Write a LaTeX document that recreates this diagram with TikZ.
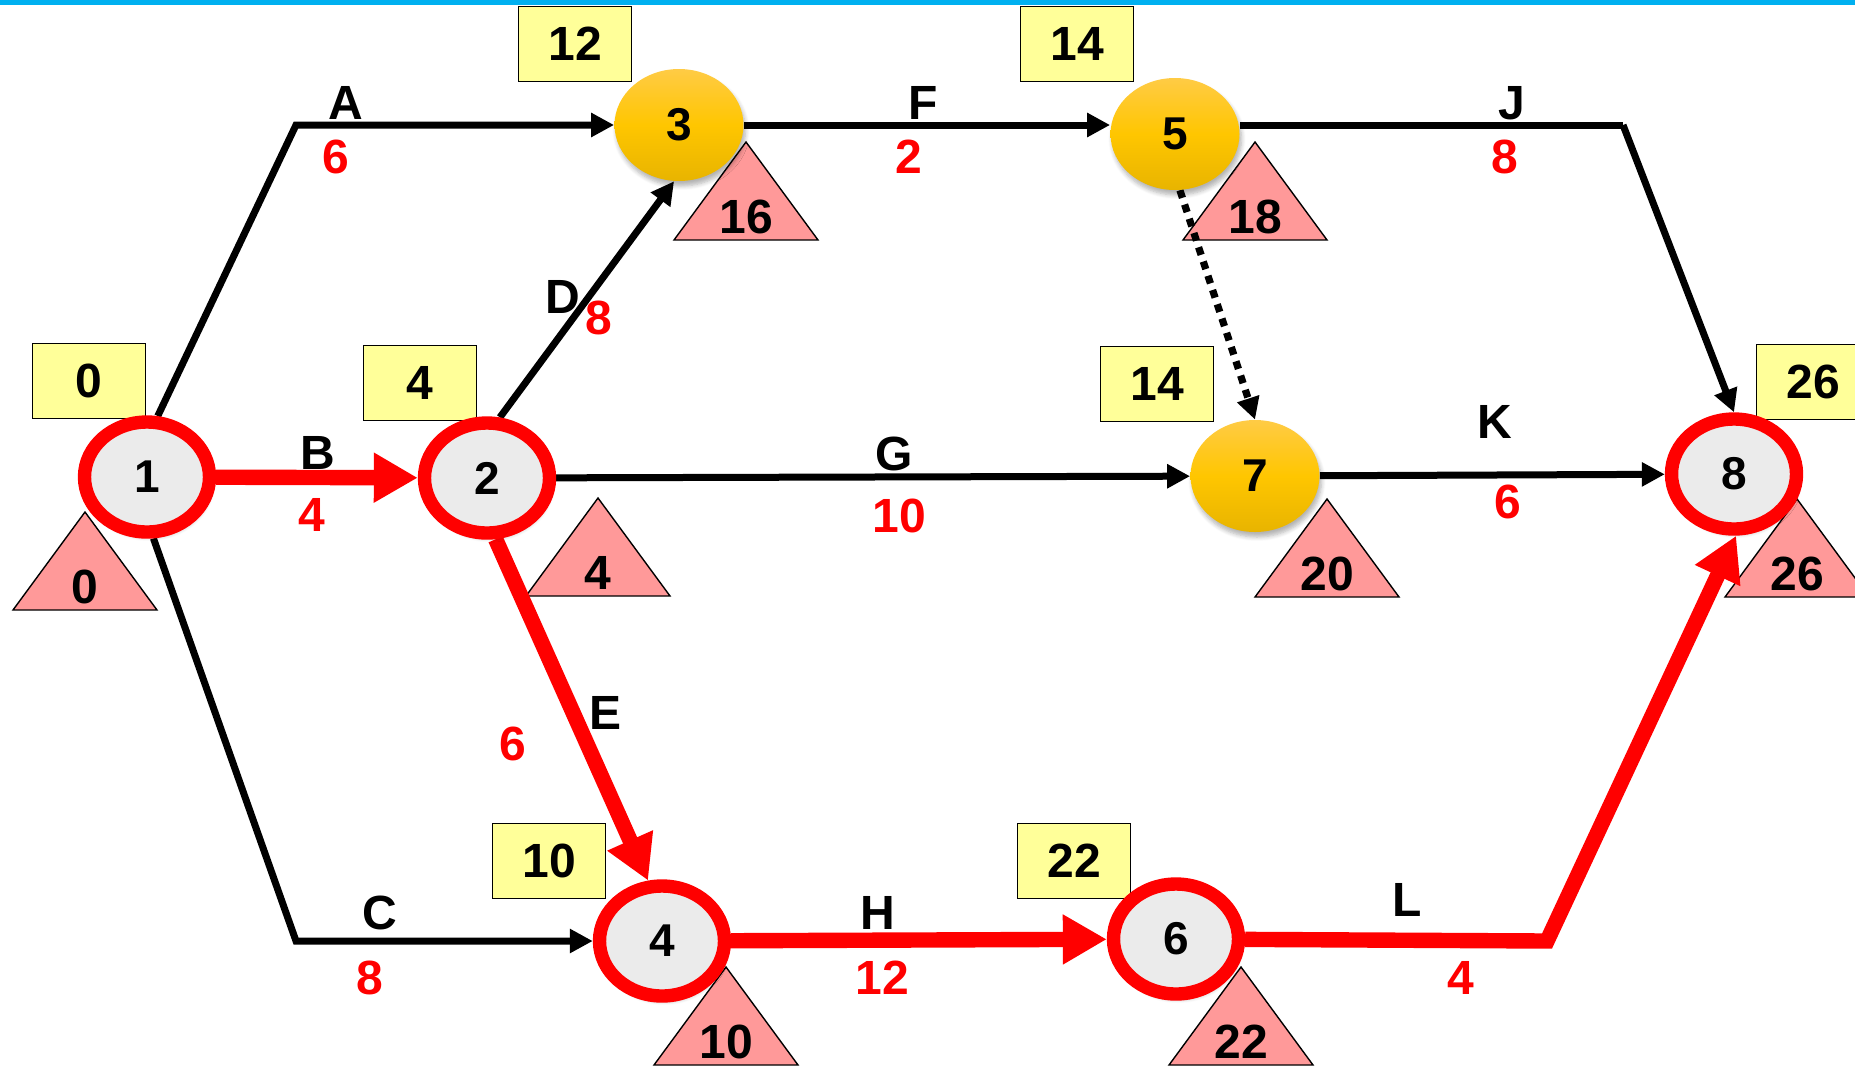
\documentclass[tikz,border=0pt]{standalone}
\usepackage{fontspec}
\setmainfont{Liberation Sans}
\usetikzlibrary{arrows.meta,calc,shadows.blur,shapes.geometric}
\pgfdeclarelayer{back}
\pgfdeclarelayer{edges}
\pgfsetlayers{back,edges,main}
\definecolor{topband}{HTML}{00B0F0}
\definecolor{boxfill}{HTML}{FFFF99}
\definecolor{trifill}{HTML}{FF9999}
\definecolor{nodegray}{HTML}{EBEBEB}
\definecolor{orangetop}{HTML}{FFCB45}
\definecolor{orangemid}{HTML}{FFC600}
\definecolor{orangebot}{HTML}{E8B400}
\definecolor{critred}{HTML}{FF0000}
\newcommand{\floattri}[3]{%
  \draw[tri] ($(#2)+(-72,98)$) -- (#2) -- ($(#2)+(72,98)$) -- cycle;
  \node[txt] (#1) at ($(#2)+(0,75)$) {#3};}
\begin{document}
\begin{tikzpicture}[x=0.5pt,y=-0.5pt,
  txt/.style={font=\fontsize{24}{26}\selectfont\bfseries, inner sep=0pt},
  dur/.style={txt, text=critred},
  evshadow/.style={blur shadow={shadow xshift=1pt, shadow yshift=-2.5pt, shadow opacity=30, shadow blur steps=6}},
  crit/.style={ellipse, draw=critred, line width=6.7pt, fill=nodegray,
    minimum width=62.5pt, minimum height=55pt, inner sep=0pt, txt,
    font=\fontsize{23}{26}\selectfont\bfseries, evshadow},
  noncrit/.style={ellipse, minimum width=64.5pt, minimum height=56pt, inner sep=0pt,
    top color=orangetop, bottom color=orangebot, middle color=orangemid, txt,
    font=\fontsize{23}{26}\selectfont\bfseries, evshadow},
  esbox/.style={draw=black, line width=0.75pt, fill=boxfill,
    minimum width=56.3pt, minimum height=37.5pt, inner sep=0pt, txt},
  tri/.style={draw=black, line width=0.7pt, fill=trifill},
  act/.style={line width=3.5pt, -{Triangle[length=11.5pt,width=11.5pt]}},
  critact/.style={line width=7.7pt, critred, -{Triangle[length=22pt,width=23.5pt]}},
  dummy/.style={line width=3.6pt, dash pattern=on 4pt off 3.5pt, -{Triangle[length=11pt,width=11pt]}},
]
\useasboundingbox (0,0) rectangle (1855,1066);
\fill[topband] (0,0) rectangle (1855,5);

% events
\node[crit] (n1) at (147,477) {1};
\node[crit] (n2) at (487,478) {2};
\node[noncrit] (n3) at (679,125) {3};
\node[crit] (n4) at (662,941) {4};
\node[noncrit] (n5) at (1175,134) {5};
\node[crit] (n6) at (1176,939) {6};
\node[noncrit] (n7) at (1255,476) {7};
\node[crit] (n8) at (1734,474) {8};

\begin{pgfonlayer}{back}
  % earliest times
  \node[esbox] (b1) at (89,381) {0};
  \node[esbox] (b2) at (420,383) {4};
  \node[esbox] (b3) at (575,44) {12};
  \node[esbox] (b5) at (1077,44) {14};
  \node[esbox] (b7) at (1157,384) {14};
  \node[esbox] (b8) at (1813,382) {26};
  \node[esbox] (b4) at (549,861) {10};
  \node[esbox] (b6) at (1074,861) {22};
  % latest times
  \floattri{t1}{85,512}{0}
  \floattri{t2}{598,498}{4}
  \floattri{t3}{746,142}{16}
  \floattri{t5}{1255,142}{18}
  \floattri{t7}{1327,499}{20}
  \floattri{t8}{1797,499}{26}
  \floattri{t4}{726,967}{10}
  \floattri{t6}{1241,967}{22}
\end{pgfonlayer}

\coordinate (cA) at (296,125);
\coordinate (cC) at (296,941);
\coordinate (cJ) at (1623,125);
\coordinate (cL) at (1547,941);

\begin{pgfonlayer}{edges}
  \draw[act] (n1.80) -- (cA) -- (n3);
  \draw[act] (n1.-84) -- (cC) -- (n4);
  \draw[act] (n2.78) -- (n3.265);
  \draw[act] (n3.east) -- (n3.east -| n5.west);
  \draw[act] (n2) -- (n7);
  \draw[act, -] (n3.east -| n5.east) -- (cJ);
  \draw[act] (cJ) -- (n8.north);
  \draw[act] (n7) -- (n8);
  \draw[dummy] (n5.-85) -- (n7.north);
  \draw[critact] (n1) -- (n2);
  \draw[critact] (n2.-82) -- (n4.103);
  \draw[critact] (n4) -- (n6);
  \draw[critact] (n6) -- (cL) -- (n8.-88);
\end{pgfonlayer}

% activity labels
\node[txt] (lA) at (346,103) {A};
\node[dur] (dA) at (336,157) {6};
\node[txt] (lB) at (318,453) {B};
\node[dur] (dB) at (312,515) {4};
\node[txt] (lC) at (380,913) {C};
\node[dur] (dC) at (370,978) {8};
\node[txt] (lD) at (563,297) {D};
\node[dur] (dD) at (599,318) {8};
\node[txt] (lE) at (605,713) {E};
\node[dur] (dE) at (513,744) {6};
\node[txt] (lF) at (923,103) {F};
\node[dur] (dF) at (909,157) {2};
\node[txt] (lG) at (894,454) {G};
\node[dur] (dG) at (899,516) {10};
\node[txt] (lH) at (878,913) {H};
\node[dur] (dH) at (882,978) {12};
\node[txt] (lJ) at (1512,103) {J};
\node[dur] (dJ) at (1505,157) {8};
\node[txt] (lK) at (1495,422) {K};
\node[dur] (dK) at (1508,502) {6};
\node[txt] (lL) at (1407,900) {L};
\node[dur] (dL) at (1461,978) {4};
\end{tikzpicture}
\end{document}
